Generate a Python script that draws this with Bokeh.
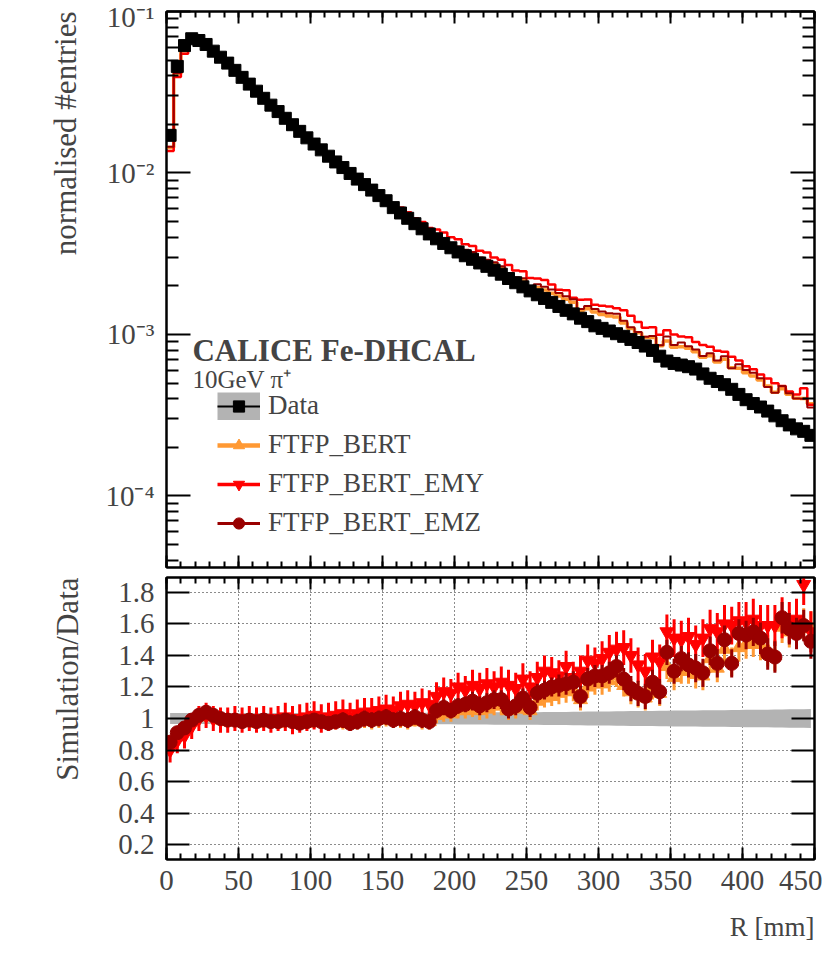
import numpy as np
from bokeh.plotting import figure
from bokeh.layouts import column
from bokeh.models import (FixedTicker, SingleIntervalTicker, LogAxis, LinearAxis, Range1d,
                          Label, Legend, LegendItem, CustomJSTickFormatter, ColumnDataSource, Title)
from bokeh.embed import file_html
from bokeh.resources import INLINE

# ---------------- data ----------------
bin_edges = list(range(0, 455, 5))          # R [mm], 5 mm bins
r_centers = [e + 2.5 for e in bin_edges[:-1]]

data_norm = [
    0.0171, 0.0457, 0.0615, 0.0678, 0.0661, 0.0625, 0.0568, 0.0521, 0.0479, 0.0432,
    0.0391, 0.0355, 0.0321, 0.0290, 0.0263, 0.0240, 0.0218, 0.0199, 0.0181, 0.0165,
    0.0151, 0.0139, 0.0127, 0.0117, 0.0108, 0.00993, 0.00916, 0.00847, 0.00783, 0.00724,
    0.00673, 0.00610, 0.00565, 0.00524, 0.00485, 0.00451, 0.00419, 0.00391, 0.00366, 0.00344,
    0.00324, 0.00307, 0.00292, 0.00277, 0.00264, 0.00250, 0.00236, 0.00222, 0.00209, 0.00197,
    0.00186, 0.00176, 0.00167, 0.00158, 0.00149, 0.00141, 0.00134, 0.00126, 0.00120, 0.00113,
    0.00109, 0.00105, 0.00101, 0.000973, 0.000931, 0.000891, 0.000847, 0.000796, 0.000733, 0.000684,
    0.000661, 0.000646, 0.000631, 0.000610, 0.000569, 0.000535, 0.000511, 0.000488, 0.000457, 0.000425,
    0.000394, 0.000373, 0.000355, 0.000335, 0.000313, 0.000292, 0.000275, 0.000260, 0.000251, 0.000237,
]
data_rel_err = [
    0.035, 0.035, 0.035, 0.035, 0.035, 0.035, 0.035, 0.035, 0.035, 0.035,
    0.035, 0.035, 0.035, 0.035, 0.035, 0.035, 0.035, 0.035, 0.035, 0.035,
    0.036, 0.036, 0.036, 0.036, 0.036, 0.036, 0.036, 0.036, 0.036, 0.036,
    0.037, 0.037, 0.037, 0.037, 0.037, 0.037, 0.037, 0.037, 0.037, 0.037,
    0.038, 0.038, 0.038, 0.038, 0.038, 0.039, 0.039, 0.039, 0.039, 0.039,
    0.040, 0.040, 0.041, 0.041, 0.042, 0.042, 0.043, 0.043, 0.044, 0.044,
    0.045, 0.045, 0.046, 0.046, 0.047, 0.047, 0.048, 0.048, 0.049, 0.049,
    0.050, 0.050, 0.051, 0.051, 0.052, 0.052, 0.053, 0.053, 0.054, 0.054,
    0.055, 0.055, 0.056, 0.056, 0.057, 0.057, 0.058, 0.058, 0.059, 0.060,
]

ratio_ftfp = [
    0.84, 0.90, 0.93, 0.98, 1.01, 1.03, 1.01, 0.99, 0.98, 0.98,
    0.98, 0.98, 0.97, 0.98, 0.98, 0.97, 0.98, 0.98, 0.97, 0.97,
    0.98, 0.98, 0.97, 0.97, 0.98, 0.97, 0.98, 0.99, 0.98, 0.99,
    1.00, 0.99, 0.99, 0.98, 1.00, 0.98, 0.98, 1.02, 1.03, 1.03,
    1.05, 1.05, 1.07, 1.05, 1.06, 1.08, 1.08, 1.05, 1.06, 1.09,
    1.05, 1.11, 1.13, 1.14, 1.16, 1.17, 1.18, 1.12, 1.20, 1.22,
    1.22, 1.24, 1.27, 1.21, 1.17, 1.15, 1.13, 1.20, 1.16, 1.33,
    1.26, 1.30, 1.30, 1.28, 1.27, 1.38, 1.32, 1.44, 1.36, 1.45,
    1.47, 1.48, 1.47, 1.43, 1.40, 1.58, 1.55, 1.55, 1.60, 1.57,
]
ratio_emy = [
    0.80, 0.86, 0.89, 0.95, 1.00, 1.02, 1.00, 0.99, 0.99, 1.00,
    0.99, 1.00, 0.99, 1.00, 0.99, 1.00, 1.01, 0.99, 1.00, 1.01,
    1.02, 1.00, 1.01, 1.02, 1.03, 1.01, 1.03, 1.04, 1.04, 1.05,
    1.06, 1.05, 1.08, 1.09, 1.08, 1.10, 1.09, 1.14, 1.17, 1.16,
    1.20, 1.18, 1.21, 1.19, 1.22, 1.20, 1.23, 1.21, 1.19, 1.25,
    1.20, 1.26, 1.30, 1.29, 1.27, 1.33, 1.26, 1.30, 1.37, 1.35,
    1.38, 1.42, 1.44, 1.45, 1.40, 1.34, 1.30, 1.39, 1.36, 1.55,
    1.51, 1.50, 1.52, 1.47, 1.51, 1.57, 1.55, 1.60, 1.59, 1.62,
    1.61, 1.63, 1.59, 1.59, 1.59, 1.64, 1.61, 1.63, 1.85, 1.55,
]
ratio_emz = [
    0.85, 0.91, 0.94, 0.99, 1.02, 1.04, 1.02, 1.00, 0.99, 0.99,
    0.98, 0.99, 0.98, 0.99, 0.98, 0.98, 0.99, 0.98, 0.97, 0.98,
    0.99, 0.98, 0.97, 0.98, 0.99, 0.97, 0.98, 1.00, 0.99, 1.00,
    1.01, 0.99, 1.00, 0.99, 1.01, 0.99, 0.98, 1.05, 1.07, 1.05,
    1.08, 1.09, 1.11, 1.08, 1.10, 1.12, 1.12, 1.06, 1.08, 1.13,
    1.07, 1.16, 1.18, 1.20, 1.21, 1.22, 1.23, 1.14, 1.25, 1.27,
    1.27, 1.29, 1.33, 1.25, 1.19, 1.16, 1.14, 1.23, 1.17, 1.42,
    1.30, 1.38, 1.34, 1.32, 1.29, 1.43, 1.35, 1.50, 1.35, 1.54,
    1.53, 1.55, 1.51, 1.41, 1.39, 1.64, 1.57, 1.54, 1.59, 1.49,
]
err_ftfp = [
    0.04, 0.04, 0.04, 0.04, 0.04, 0.04, 0.04, 0.04, 0.04, 0.04,
    0.04, 0.04, 0.04, 0.04, 0.04, 0.04, 0.04, 0.04, 0.04, 0.04,
    0.04, 0.04, 0.04, 0.04, 0.05, 0.05, 0.05, 0.05, 0.05, 0.05,
    0.05, 0.05, 0.05, 0.05, 0.05, 0.05, 0.05, 0.05, 0.05, 0.05,
    0.05, 0.05, 0.06, 0.06, 0.06, 0.06, 0.06, 0.06, 0.06, 0.06,
    0.06, 0.06, 0.06, 0.06, 0.07, 0.07, 0.07, 0.07, 0.07, 0.07,
    0.07, 0.07, 0.07, 0.07, 0.08, 0.08, 0.08, 0.08, 0.08, 0.08,
    0.08, 0.08, 0.08, 0.09, 0.09, 0.09, 0.09, 0.09, 0.09, 0.09,
    0.09, 0.09, 0.10, 0.10, 0.10, 0.10, 0.10, 0.10, 0.10, 0.11,
]
err_emy = [
    0.08, 0.08, 0.08, 0.08, 0.08, 0.08, 0.08, 0.08, 0.08, 0.08,
    0.08, 0.08, 0.08, 0.08, 0.08, 0.08, 0.09, 0.09, 0.09, 0.09,
    0.09, 0.09, 0.09, 0.09, 0.09, 0.09, 0.09, 0.09, 0.09, 0.09,
    0.09, 0.09, 0.09, 0.09, 0.09, 0.09, 0.09, 0.09, 0.09, 0.09,
    0.09, 0.09, 0.10, 0.10, 0.10, 0.10, 0.10, 0.10, 0.10, 0.10,
    0.10, 0.10, 0.10, 0.10, 0.10, 0.10, 0.10, 0.10, 0.10, 0.10,
    0.11, 0.11, 0.11, 0.11, 0.11, 0.11, 0.11, 0.11, 0.11, 0.11,
    0.12, 0.12, 0.12, 0.12, 0.12, 0.12, 0.12, 0.12, 0.12, 0.12,
    0.13, 0.13, 0.13, 0.13, 0.13, 0.13, 0.13, 0.13, 0.13, 0.13,
]
err_emz = [
    0.04, 0.04, 0.04, 0.04, 0.04, 0.04, 0.04, 0.04, 0.04, 0.04,
    0.04, 0.04, 0.04, 0.04, 0.04, 0.04, 0.04, 0.04, 0.04, 0.04,
    0.04, 0.04, 0.04, 0.04, 0.05, 0.05, 0.05, 0.05, 0.05, 0.05,
    0.05, 0.05, 0.05, 0.05, 0.05, 0.05, 0.05, 0.05, 0.05, 0.05,
    0.05, 0.05, 0.06, 0.06, 0.06, 0.06, 0.06, 0.06, 0.06, 0.06,
    0.06, 0.06, 0.06, 0.06, 0.07, 0.07, 0.07, 0.07, 0.07, 0.07,
    0.07, 0.07, 0.07, 0.07, 0.08, 0.08, 0.08, 0.08, 0.08, 0.08,
    0.08, 0.08, 0.08, 0.09, 0.09, 0.09, 0.09, 0.09, 0.09, 0.09,
    0.09, 0.09, 0.10, 0.10, 0.10, 0.10, 0.10, 0.10, 0.10, 0.11,
]

y_ticks_top = [1e-4, 1e-3, 1e-2, 1e-1]
y_ticks_ratio = [0.2, 0.4, 0.6, 0.8, 1.0, 1.2, 1.4, 1.6, 1.8]

# ---------------- styles ----------------
FONT = "Liberation Serif"
C_FTFP = "#ff9933"
C_EMY = "#ff0000"
C_EMZ = "#990000"
C_BAND = "#b3b3b3"
TICK_FS = "29px"
TITLE_FS = "31px"

data_arr = np.array(data_norm)
series = [
    ("FTFP_BERT", ratio_ftfp, err_ftfp, C_FTFP, "triangle", 3.5),
    ("FTFP_BERT_EMY", ratio_emy, err_emy, C_EMY, "inverted_triangle", 2.5),
    ("FTFP_BERT_EMZ", ratio_emz, err_emz, C_EMZ, "circle", 2.0),
]

log_fmt = CustomJSTickFormatter(code="""
const e = Math.round(Math.log10(tick));
const sup = {'-':'\u207b','0':'\u2070','1':'\u00b9','2':'\u00b2','3':'\u00b3','4':'\u2074',
             '5':'\u2075','6':'\u2076','7':'\u2077','8':'\u2078','9':'\u2079'};
return '10' + String(e).split('').map(c => sup[c]).join('');
""")
ratio_fmt = CustomJSTickFormatter(code="return (Math.round(tick*10)/10).toString();")
int_fmt = CustomJSTickFormatter(code="return tick.toFixed(0);")


def style_axis(ax, ticker, formatter, major_in, minor_in, show_labels, standoff=12):
    ax.ticker = ticker
    if show_labels:
        ax.formatter = formatter
    else:
        ax.formatter = CustomJSTickFormatter(code="return '';")
    ax.major_tick_in = major_in
    ax.major_tick_out = 0
    ax.minor_tick_in = minor_in
    ax.minor_tick_out = 0
    ax.major_tick_line_width = 2
    ax.minor_tick_line_width = 2
    ax.axis_line_width = 2
    ax.major_label_text_font = FONT
    ax.major_label_text_font_size = TICK_FS if show_labels else "0px"
    ax.major_label_standoff = standoff if show_labels else 0


def axis_title(text, standoff, size=TITLE_FS, align="right"):
    return Title(text=text, align=align, text_font=FONT, text_font_size=size,
                 text_font_style="normal", standoff=standoff)


x_range = Range1d(0, 450)

# ---------------- top panel ----------------
p1 = figure(width=822, height=572, y_axis_type="log", x_range=x_range,
            y_range=Range1d(3.6e-5, 0.1), output_backend="svg", toolbar_location=None,
            min_border_left=166, min_border_right=8, min_border_top=11, min_border_bottom=5)
p1.grid.visible = False
p1.outline_line_color = "black"
p1.outline_line_width = 2
p1.background_fill_color = "white"
p1.border_fill_color = "white"

xt = SingleIntervalTicker(interval=50, num_minor_ticks=5)
yt_top = FixedTicker(ticks=y_ticks_top,
                     minor_ticks=[k * 10.0 ** e for e in range(-5, -1) for k in range(2, 10)])
style_axis(p1.xaxis[0], xt, None, 12, 6, False)
style_axis(p1.yaxis[0], yt_top, log_fmt, 24, 12, True)
ax_top = LinearAxis()
style_axis(ax_top, xt, None, 12, 6, False)
p1.add_layout(ax_top, "above")
ax_right = LogAxis()
style_axis(ax_right, yt_top, None, 24, 12, False)
p1.add_layout(ax_right, "right")
p1.add_layout(axis_title("normalised #entries", 39), "left")

# simulation histograms (data x ratio) as steps
for name, ratio, err, col, marker, lw in series:
    mc = list(data_arr * np.array(ratio))
    p1.step(x=bin_edges, y=mc + [mc[-1]], mode="after", line_color=col, line_width=lw)

p1.scatter(x=r_centers, y=data_norm, marker="square", size=12, color="black")

# legend built from renderers holding no visible point
def dummy():
    return ColumnDataSource(dict(x=[float("nan")], y=[float("nan")]))

r_box = p1.line(x="x", y="y", source=dummy(), line_color=C_BAND, line_width=28)
r_dl = p1.line(x="x", y="y", source=dummy(), line_color="black", line_width=2)
r_dm = p1.scatter(x="x", y="y", source=dummy(), marker="square", size=12, color="black")
items = [LegendItem(label="Data", renderers=[r_box, r_dl, r_dm])]
for name, ratio, err, col, marker, lw in series:
    rl = p1.line(x="x", y="y", source=dummy(), line_color=col, line_width=lw + 1)
    rm = p1.scatter(x="x", y="y", source=dummy(), marker=marker, size=14, color=col)
    items.append(LegendItem(label=name, renderers=[rl, rm]))
legend = Legend(items=items, location=(51, 29), border_line_alpha=0, background_fill_alpha=0,
                label_text_font=FONT, label_text_font_size="27px", glyph_width=43, glyph_height=28,
                label_height=28, spacing=8, padding=0, margin=0, label_standoff=8)
p1.add_layout(legend, "center")

p1.add_layout(Label(x=18, y=8.0e-4, text="CALICE Fe-DHCAL", text_font=FONT, text_font_size="31px",
                    text_font_style="bold", text_baseline="middle"))
p1.add_layout(Label(x=18, y=5.26e-4, text="10GeV \u03c0\u207a", text_font=FONT, text_font_size="25px",
                    text_baseline="middle"))

# ---------------- ratio panel ----------------
p2 = figure(width=822, height=384, x_range=x_range, y_range=Range1d(0.105, 1.895),
            output_backend="svg", toolbar_location=None,
            min_border_left=166, min_border_right=8, min_border_top=5, min_border_bottom=97)
p2.outline_line_color = "black"
p2.outline_line_width = 2
p2.background_fill_color = "white"
p2.border_fill_color = "white"
yt_ratio = FixedTicker(ticks=y_ticks_ratio, minor_ticks=[])
xt2 = SingleIntervalTicker(interval=50, num_minor_ticks=5)
style_axis(p2.xaxis[0], xt2, int_fmt, 12, 6, True, standoff=11)
style_axis(p2.yaxis[0], yt_ratio, ratio_fmt, 23, 0, True)
ax_top2 = LinearAxis()
style_axis(ax_top2, xt2, None, 12, 6, False)
p2.add_layout(ax_top2, "above")
ax_right2 = LinearAxis()
style_axis(ax_right2, yt_ratio, None, 23, 0, False)
p2.add_layout(ax_right2, "right")
p2.add_layout(axis_title("Simulation/Data", 62), "left")
p2.add_layout(Title(text=" ", text_font=FONT, text_font_size="13px", standoff=0), "below")
p2.add_layout(axis_title("R [mm]", 0, size="27px"), "below")
for g in (p2.xgrid[0], p2.ygrid[0]):
    g.grid_line_color = "black"
    g.grid_line_width = 1
    g.grid_line_dash = "1 3"
    g.grid_line_alpha = 0.9

band = np.array(data_rel_err)
p2.varea(x=r_centers, y1=list(1 - band), y2=list(1 + band), fill_color=C_BAND)

for name, ratio, err, col, marker, lw in series:
    r = np.array(ratio)
    e = np.array(err)
    p2.segment(x0=r_centers, x1=r_centers, y0=list(r - e), y1=list(r + e), line_color=col, line_width=3)
    p2.scatter(x=r_centers, y=ratio, marker=marker, size=14, color=col)

layout = column(p1, p2, spacing=0)
open("out.html", "w").write(file_html(layout, INLINE))
